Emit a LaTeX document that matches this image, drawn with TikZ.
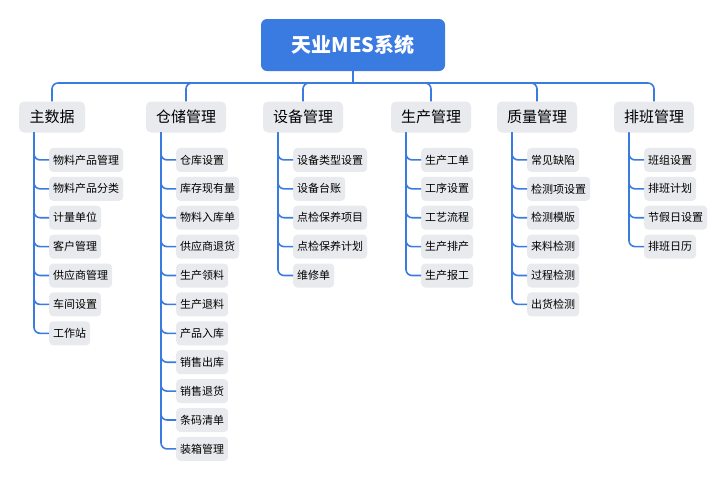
\documentclass[tikz,border=0pt]{standalone}
\usepackage{fontspec}
\setmainfont{Noto Sans CJK SC}
\definecolor{mesblue}{HTML}{3A7BE2}
\definecolor{mesgray}{HTML}{E8EAED}
\begin{document}
\begin{tikzpicture}[x=1pt,y=-1pt]
	\tikzstyle{root}=[fill=mesblue,text=white,rounded corners=6pt,minimum width=184pt,minimum height=52pt,font=\fontsize{20}{24}\selectfont\bfseries]
	\tikzstyle{topic}=[fill=mesgray,rounded corners=5pt,minimum height=31pt,inner xsep=10pt,font=\fontsize{15}{18}\selectfont]
	\tikzstyle{sub}=[fill=mesgray,rounded corners=4pt,minimum height=24pt,inner xsep=4pt,anchor=west,font=\fontsize{11}{13}\selectfont]
	\tikzstyle{link}=[draw=mesblue,line width=1.6pt,rounded corners=6pt]
	\useasboundingbox (0,0) rectangle (725,480);

	\node[root](mes) at (353,45){天业MES系统};

	\node[topic,minimum width=66pt](t1) at (52,117){主数据};
	\node[topic,minimum width=80pt](t2) at (186,117){仓储管理};
	\node[topic,minimum width=80pt](t3) at (303,117){设备管理};
	\node[topic,minimum width=80pt](t4) at (431,117){生产管理};
	\node[topic,minimum width=80pt](t5) at (537,117){质量管理};
	\node[topic,minimum width=80pt](t6) at (654,117){排班管理};

	\coordinate (bus) at (353,83);
	\draw[link] (mes.south) -- (bus);
	\draw[link] (t1.north) |- (bus);
	\draw[link] (t2.north) |- (bus);
	\draw[link] (t3.north) |- (bus);
	\draw[link] (t4.north) |- (bus);
	\draw[link] (t5.north) |- (bus);
	\draw[link] (t6.north) |- (bus);

	% children of each topic
	\foreach \t/\lx/\items in {
		t1/34/{物料产品管理,物料产品分类,计量单位,客户管理,供应商管理,车间设置,工作站},
		t2/161/{仓库设置,库存现有量,物料入库单,供应商退货,生产领料,生产退料,产品入库,销售出库,销售退货,条码清单,装箱管理},
		t3/278/{设备类型设置,设备台账,点检保养项目,点检保养计划,维修单},
		t4/406/{生产工单,工序设置,工艺流程,生产排产,生产报工},
		t5/512/{常见缺陷,检测项设置,检测模版,来料检测,过程检测,出货检测},
		t6/629/{班组设置,排班计划,节假日设置,排班日历}}{
		\foreach \s [count=\i] in \items {
			\node[sub](\t-\i) at (\lx+15,131+28.9*\i){\s};
			\draw[link] (\t.south -| \t-\i.west) ++(-15,0) coordinate (\t-top) (\t-top) |- (\t-\i.west);
		}
	}
\end{tikzpicture}
\end{document}
